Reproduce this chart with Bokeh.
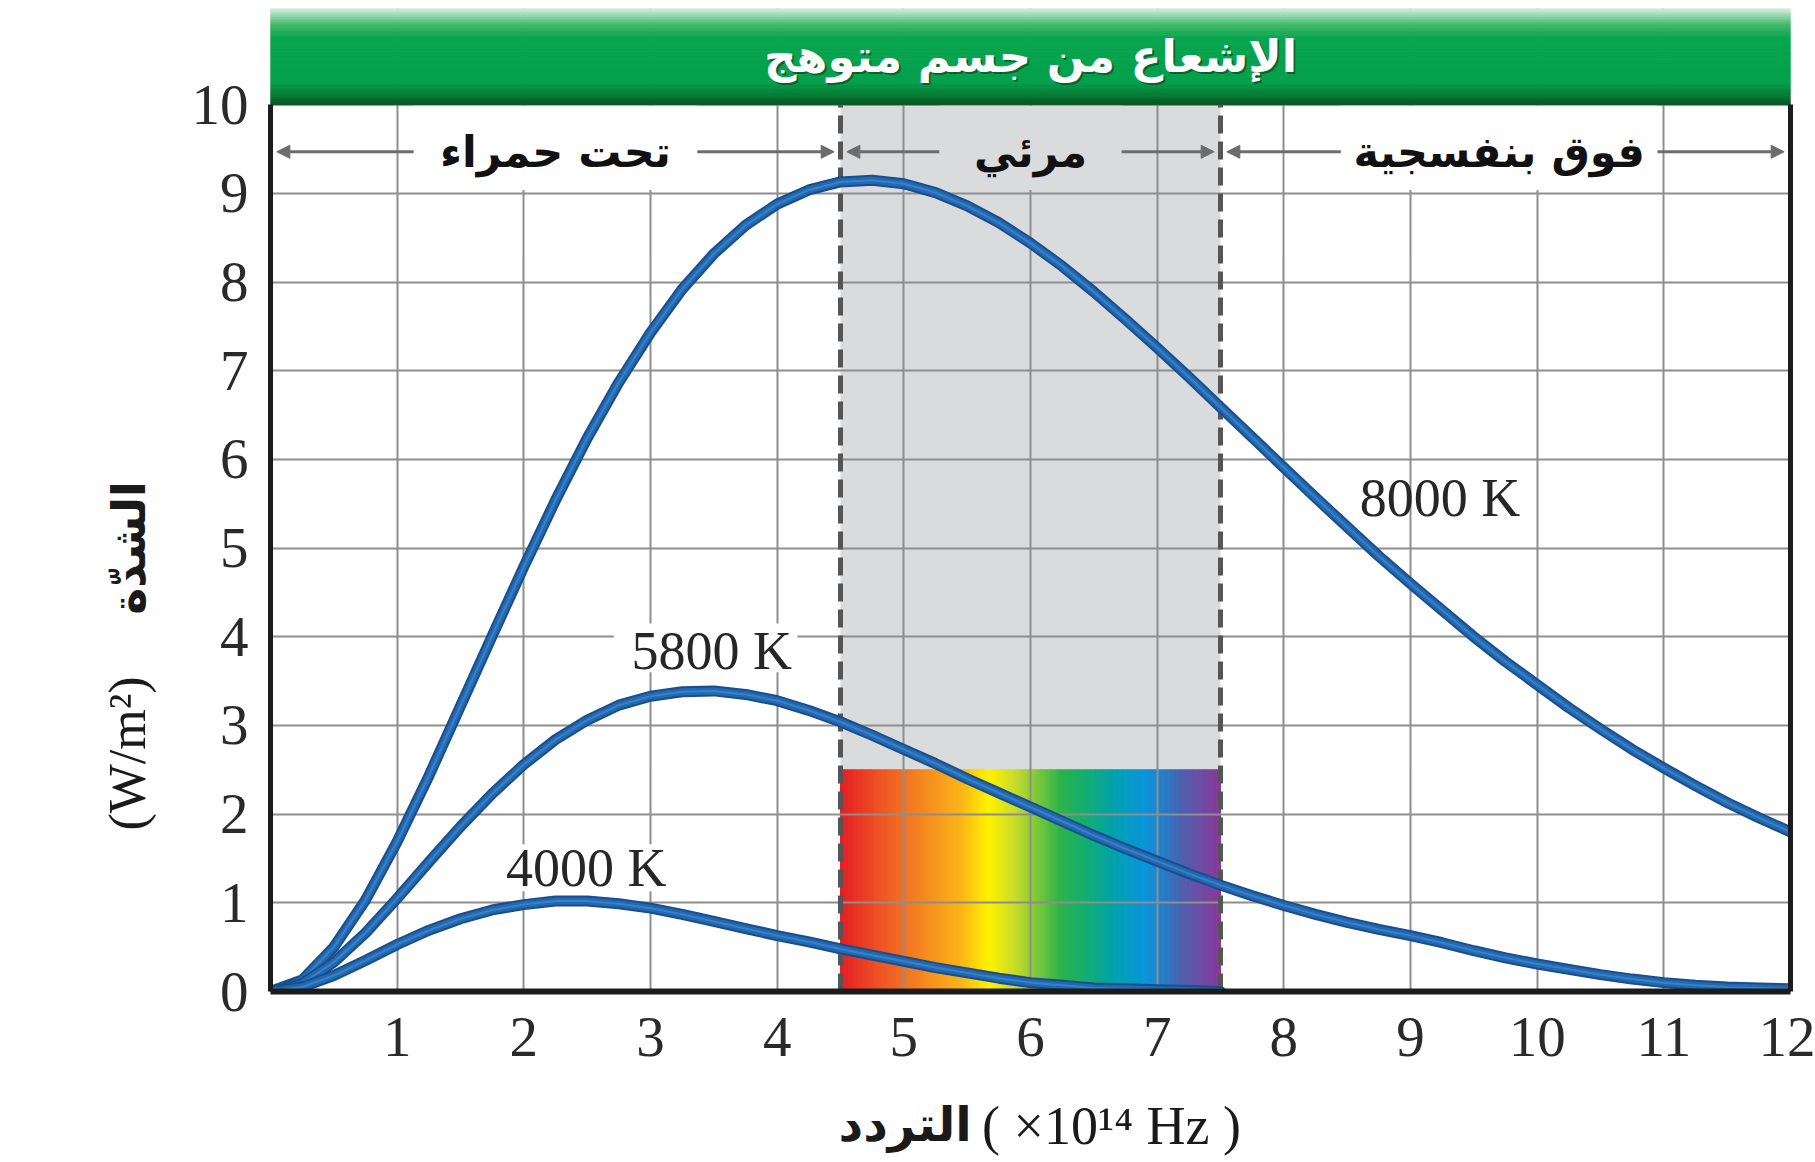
import numpy as np
from bokeh.plotting import figure
from bokeh.models import FixedTicker, LinearAxis, Label, Arrow, NormalHead, Range1d
from bokeh.embed import file_html
from bokeh.resources import INLINE

# ---------------- data ----------------
freq = [0.0, 0.25, 0.5, 0.75, 1.0, 1.25, 1.5, 1.75, 2.0, 2.25, 2.5, 2.75,
        3.0, 3.25, 3.5, 3.75, 4.0, 4.25, 4.5, 4.75, 5.0, 5.25, 5.5, 5.75,
        6.0, 6.25, 6.5, 6.75, 7.0, 7.25, 7.5, 7.75, 8.0, 8.25, 8.5, 8.75,
        9.0, 9.25, 9.5, 9.75, 10.0, 10.25, 10.5, 10.75, 11.0, 11.25, 11.5, 11.75, 12.0]

int_8000 = [0.0, 0.13, 0.50, 1.03, 1.69, 2.43, 3.22, 4.01, 4.79, 5.54, 6.24, 6.87,
            7.43, 7.92, 8.32, 8.64, 8.88, 9.04, 9.13, 9.15, 9.11, 9.01, 8.86, 8.67,
            8.44, 8.18, 7.89, 7.58, 7.26, 6.93, 6.59, 6.25, 5.91, 5.57, 5.24, 4.91,
            4.60, 4.30, 4.00, 3.72, 3.46, 3.20, 2.96, 2.73, 2.52, 2.32, 2.13, 1.96, 1.80]

int_5800 = [0.0, 0.09, 0.33, 0.66, 1.05, 1.46, 1.86, 2.23, 2.56, 2.84, 3.06, 3.23,
            3.33, 3.38, 3.39, 3.35, 3.28, 3.17, 3.04, 2.89, 2.73, 2.57, 2.40, 2.24,
            2.08, 1.92, 1.76, 1.61, 1.47, 1.33, 1.20, 1.08, 0.97, 0.87, 0.78, 0.70,
            0.63, 0.55, 0.46, 0.38, 0.31, 0.25, 0.19, 0.14, 0.10, 0.07, 0.05, 0.04, 0.03]

int_4000 = [0.0, 0.05, 0.18, 0.35, 0.53, 0.69, 0.82, 0.92, 0.98, 1.02, 1.02, 0.99,
            0.94, 0.87, 0.79, 0.71, 0.63, 0.56, 0.48, 0.41, 0.34, 0.27, 0.21, 0.15,
            0.10, 0.07, 0.04, 0.03, 0.02, 0.01, 0.0]

curve_names = ["8000 K", "5800 K", "4000 K"]

band_edges = [0.0, 4.5, 7.5, 12.0]
band_names = ["تحت حمراء", "مرئي", "فوق بنفسجية"]
spectrum_top = 2.5

x_ticks = [1, 2, 3, 4, 5, 6, 7, 8, 9, 10, 11, 12]
y_ticks = [0, 1, 2, 3, 4, 5, 6, 7, 8, 9, 10]

title_text = "الإشعاع من جسم متوهج"
x_title_ar = "التردد"
x_title_unit = "( ×10¹⁴ Hz )"
y_title_ar = "الشدّة"
y_title_unit = "(W/m²)"

# ---------------- helpers ----------------
NB = "\u00a0"   # non-breaking space, used to shift axis-title pieces along the axis


def hex2rgb(h):
    h = h.lstrip("#")
    return np.array([int(h[i:i + 2], 16) for i in (0, 2, 4)], dtype=float)


def ramp(stops, ts):
    pos = np.array([s[0] for s in stops])
    cols = np.array([hex2rgb(s[1]) for s in stops])
    out = []
    for t in ts:
        rgb = [np.interp(t, pos, cols[:, k]) for k in range(3)]
        out.append("#%02x%02x%02x" % tuple(int(round(c)) for c in rgb))
    return out


def title_axis(text, font, size, style, standoff):
    return LinearAxis(ticker=FixedTicker(ticks=[]),
                      axis_line_color=None, major_tick_line_color=None,
                      minor_tick_line_color=None, major_tick_out=0, major_tick_in=0,
                      minor_tick_out=0, minor_tick_in=0,
                      major_label_text_font_size="0px", major_label_standoff=0,
                      axis_label=text, axis_label_text_font=font,
                      axis_label_text_font_size=size, axis_label_text_font_style=style,
                      axis_label_text_color="#1a1a1a", axis_label_standoff=standoff)


SERIF = "Liberation Serif"
ARABIC = "DejaVu Sans"
Y_TOP = 11.086

p = figure(width=1815, height=1162,
           x_range=Range1d(0, 12), y_range=Range1d(0, Y_TOP),
           output_backend="svg", toolbar_location=None,
           min_border_left=270, min_border_right=25,
           min_border_top=8, min_border_bottom=171)
p.outline_line_color = None
p.background_fill_color = "white"
p.border_fill_color = "white"

# axes
xa = p.xaxis[0]
xa.ticker = FixedTicker(ticks=x_ticks)
xa.axis_line_width = 6
xa.axis_line_color = "#1c1c1c"
xa.major_tick_line_color = None
xa.minor_tick_line_color = None
xa.major_tick_out = 0
xa.major_tick_in = 0
xa.minor_tick_out = 0
xa.major_label_text_font = SERIF
xa.major_label_text_font_size = "57px"
xa.major_label_text_color = "#2a2a2a"
xa.major_label_standoff = 26

ya = p.yaxis[0]
ya.ticker = FixedTicker(ticks=y_ticks)
ya.bounds = (0, 10)
ya.axis_line_width = 5
ya.axis_line_color = "#1c1c1c"
ya.major_tick_line_color = None
ya.minor_tick_line_color = None
ya.major_tick_out = 0
ya.major_tick_in = 0
ya.minor_tick_out = 0
ya.major_label_text_font = SERIF
ya.major_label_text_font_size = "57px"
ya.major_label_text_color = "#2a2a2a"
ya.major_label_standoff = 22

ra = LinearAxis(bounds=(0, 10), ticker=FixedTicker(ticks=[]),
                axis_line_width=5, axis_line_color="#1c1c1c",
                major_tick_line_color=None, minor_tick_line_color=None,
                major_tick_out=0, major_tick_in=0,
                major_label_text_font_size="0px", major_label_standoff=0)
p.add_layout(ra, "right")

# axis titles: each piece in its own font on a title-only axis; the two pieces share one line
p.add_layout(title_axis(y_title_ar + NB * 6, ARABIC, "46px", "bold", 33), "left")
p.add_layout(title_axis(y_title_unit + NB * 39, SERIF, "52px", "normal", -57), "left")
p.add_layout(title_axis(x_title_ar + NB * 15, ARABIC, "48px", "bold", 37), "below")
p.add_layout(title_axis(NB * 12 + x_title_unit, SERIF, "54px", "normal", -59), "below")

# grid
p.xgrid.ticker = FixedTicker(ticks=x_ticks)
p.ygrid.ticker = FixedTicker(ticks=y_ticks[1:])
p.grid.grid_line_color = "#8e8e8e"
p.grid.grid_line_width = 2

# visible band (grey) and spectrum
p.quad(left=[band_edges[1]], right=[band_edges[2]], bottom=[0], top=[10],
       fill_color="#dadbdd", line_color=None, level="image")

n_sl = 150
edges = np.linspace(band_edges[1], band_edges[2], n_sl + 1)
tcent = (np.arange(n_sl) + 0.5) / n_sl
spec_stops = [(0.0, "#e51d25"), (0.10, "#ee5125"), (0.24, "#f6921e"),
              (0.32, "#fbb516"), (0.39, "#fff200"), (0.46, "#c8dc2b"),
              (0.58, "#2cb34a"), (0.65, "#12ad74"), (0.73, "#00a0b4"),
              (0.80, "#0b95d9"), (0.84, "#1c84cf"), (0.90, "#4f60ad"),
              (1.0, "#8b389a")]
spec_cols = ramp(spec_stops, tcent)
p.quad(left=edges[:-1], right=edges[1:], bottom=0, top=spectrum_top,
       fill_color=spec_cols, line_color=spec_cols, line_width=1, level="image")

# green title bar
n_g = 60
gy = np.linspace(10.0, Y_TOP, n_g + 1)
gt = (np.arange(n_g) + 0.5) / n_g
g_stops = [(0.0, "#05521f"), (0.10, "#087a35"), (0.24, "#06a04c"),
           (0.70, "#08a54f"), (0.84, "#45b96c"), (1.0, "#d3eed9")]
g_cols = ramp(g_stops, gt)
p.quad(left=0, right=12, bottom=gy[:-1], top=gy[1:],
       fill_color=g_cols, line_color=g_cols, line_width=1)

# region label boxes (hide grid lines behind the labels)
label_cx = [2.25, 6.0, 9.7]
half_gap = [1.12, 0.72, 1.25]
box_cols = ["white", "#dadbdd", "white"]
p.quad(left=[c - h for c, h in zip(label_cx, half_gap)],
       right=[c + h for c, h in zip(label_cx, half_gap)],
       bottom=9.04, top=9.99, fill_color=box_cols, line_color=None)

# curve label boxes
p.quad(left=[2.71, 1.80], right=[4.16, 3.20], bottom=[3.60, 1.13], top=[4.15, 1.66],
       fill_color="white", line_color=None)

# dashed band limits
p.segment(x0=band_edges[1:3], y0=0, x1=band_edges[1:3], y1=10,
          line_color="#555555", line_width=5, line_dash="18 8")

# curves
for vals in (int_8000, int_5800, int_4000):
    xs = freq[:len(vals)]
    p.line(xs, vals, line_width=11, line_color="#1a4e8b", line_cap="round", line_join="round")
    p.line(xs, vals, line_width=7, line_color="#2269b3", line_cap="round", line_join="round")
    p.line(xs, vals, line_width=2, line_color="#4d8fd0", line_alpha=0.6)

# region arrows and names
ARROW_Y = 9.47
acol = "#6c6c6c"
for i, name in enumerate(band_names):
    lo, hi = band_edges[i] + 0.05, band_edges[i + 1] - 0.05
    c, h = label_cx[i], half_gap[i]
    for xs0, xs1 in ((c - h, lo), (c + h, hi)):
        p.add_layout(Arrow(x_start=xs0, y_start=ARROW_Y, x_end=xs1, y_end=ARROW_Y,
                           start=None,
                           end=NormalHead(size=13, fill_color=acol, line_color=acol, line_width=1),
                           line_color=acol, line_width=3))
    p.add_layout(Label(x=c, y=ARROW_Y, text=name, text_align="center", text_baseline="middle",
                       text_font=ARABIC, text_font_style="bold", text_font_size="43px",
                       text_color="#111111"))

# title
p.add_layout(Label(x=6.0, y=10.55, text=title_text, text_align="center", text_baseline="middle",
                   x_offset=2, y_offset=-2,
                   text_font=ARABIC, text_font_style="bold", text_font_size="45px",
                   text_color="#0b3d1c", text_alpha=0.6))
p.add_layout(Label(x=6.0, y=10.55, text=title_text, text_align="center", text_baseline="middle",
                   text_font=ARABIC, text_font_style="bold", text_font_size="45px",
                   text_color="white"))

# curve labels
curve_lbl_pos = [(8.6, 5.56), (2.85, 3.84), (1.86, 1.39)]
for name, (lx, ly) in zip(curve_names, curve_lbl_pos):
    p.add_layout(Label(x=lx, y=ly, text=name, text_align="left", text_baseline="middle",
                       text_font=SERIF, text_font_size="54px", text_color="#262626"))

open("out.html", "w").write(file_html(p, INLINE))
